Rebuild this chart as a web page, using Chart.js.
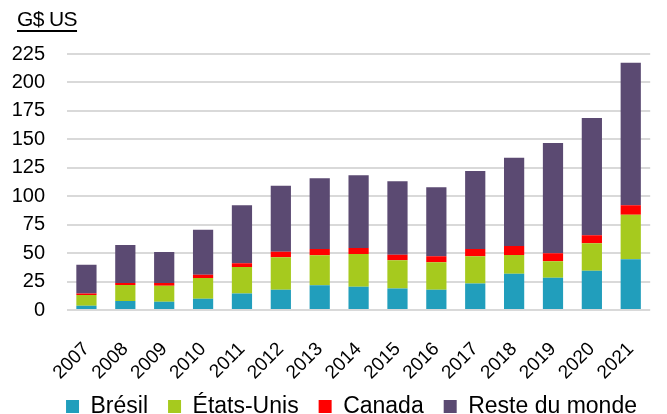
<!DOCTYPE html>
<html>
<head>
<meta charset="utf-8">
<script src="https://cdn.jsdelivr.net/npm/chart.js@4/dist/chart.umd.min.js"></script>
<style>
  html, body { margin: 0; padding: 0; background: #fff; }
  #wrap { position: relative; width: 667px; height: 414px; }
  #unit { position: absolute; left: 17px; top: 7px; font-family: "Liberation Sans", Arial, sans-serif; font-size: 21px; color: #000; text-decoration: underline; text-underline-offset: 4px; line-height: 24px; letter-spacing: -0.6px; }
  canvas { position: absolute; left: 0; top: 0; }
</style>
</head>
<body>
<div id="wrap">
  <canvas id="c" width="667" height="414"></canvas>
  <div id="unit">G$ US</div>
</div>
<script>
const years = ["2007","2008","2009","2010","2011","2012","2013","2014","2015","2016","2017","2018","2019","2020","2021"];
const bresil = [3.8, 7.9, 7.3, 9.9, 14.4, 17.9, 21.7, 20.5, 18.8, 17.9, 23.2, 31.9, 28.4, 34.6, 44.5];
const etatsUnis = [9.4, 14.1, 14.1, 18.2, 23.4, 28.4, 26.4, 28.7, 24.9, 24.0, 24.0, 16.4, 14.4, 24.0, 39.3];
const canada = [1.4, 1.7, 2.3, 2.9, 3.2, 5.0, 5.5, 5.3, 4.9, 5.3, 6.4, 7.9, 7.0, 7.0, 8.2];
const reste = [25.2, 33.4, 27.3, 39.6, 51.0, 58.0, 62.1, 63.9, 64.5, 60.6, 68.6, 77.7, 97.0, 103.1, 125.3];
const seriesNames = ["Brésil", "États-Unis", "Canada", "Reste du monde"];
const yMax = 225;
const yStep = 25;

const colors = ["#219EBC", "#A6CA1E", "#FF0000", "#5B4A72"];
const xTickFont = { family: "'Liberation Sans', Arial, sans-serif", size: 19 };
const yTickFont = { family: "'Liberation Sans', Arial, sans-serif", size: 20 };

const ds = [bresil, etatsUnis, canada, reste].map((d, i) => ({
  label: seriesNames[i],
  data: d,
  backgroundColor: colors[i],
  borderWidth: 0,
  barPercentage: 0.52,
  categoryPercentage: 1.0
}));

const legendShift = {
  id: 'legendShift',
  afterLayout(chart) {
    const lg = chart.legend;
    if (!lg) return;
    lg.left += 20; lg.right += 20;
    lg.top -= 7; lg.bottom -= 7;
  }
};

new Chart(document.getElementById('c'), {
  type: 'bar',
  data: { labels: years, datasets: ds },
  plugins: [legendShift],
  options: {
    responsive: false,
    animation: false,
    devicePixelRatio: 1,
    layout: { padding: { left: 0, right: 4, top: 54, bottom: -21 } },
    plugins: {
      legend: {
        position: 'bottom',
        labels: {
          font: { family: "'Liberation Sans', Arial, sans-serif", size: 23 },
          color: '#000',
          boxWidth: 13,
          boxHeight: 13,
          padding: 20
        }
      },
      tooltip: { enabled: false }
    },
    scales: {
      x: {
        stacked: true,
        grid: { display: false },
        border: { display: false },
        afterFit: (scale) => { scale.height = 72; },
        ticks: {
          font: xTickFont,
          color: '#000',
          minRotation: 45,
          maxRotation: 45,
          autoSkip: false,
          padding: 20
        }
      },
      y: {
        stacked: true,
        min: 0,
        max: yMax,
        grid: { color: '#D9D9D9', lineWidth: 2, drawTicks: false },
        border: { display: false },
        afterFit: (scale) => { scale.width = 67; },
        ticks: {
          stepSize: yStep,
          autoSkip: false,
          font: yTickFont,
          color: '#000',
          padding: 22
        }
      }
    }
  }
});
</script>
</body>
</html>
